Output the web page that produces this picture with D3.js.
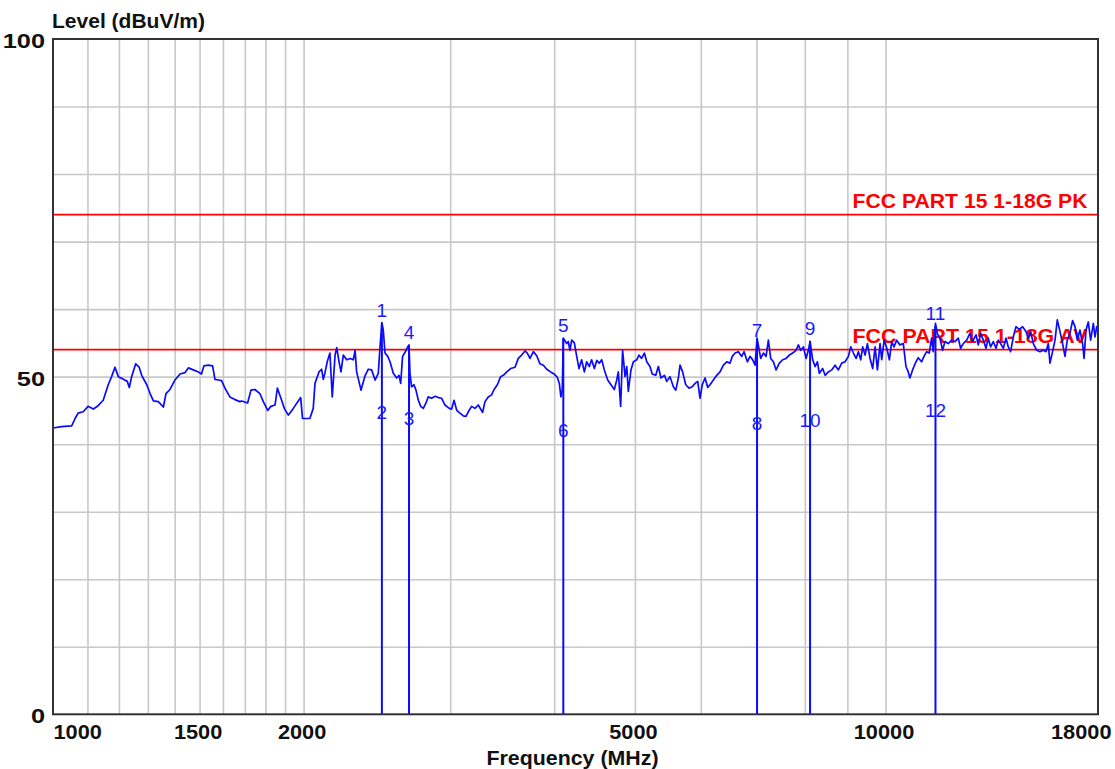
<!DOCTYPE html>
<html><head><meta charset="utf-8">
<script src="https://cdn.jsdelivr.net/npm/d3@7"></script>
<style>html,body{margin:0;padding:0;background:#fff;} svg{display:block;}</style>
</head><body><svg id="c" width="1115" height="769"></svg>
<script>
// ---- data ----
const traceFreq = [1000,1024,1053,1063,1072,1087,1102,1118,1133,1149,1165,1176,1187,1198,1215,1228,1235,1243,1257,1269,1278,1296,1308,1320,1338,1357,1367,1382,1401,1421,1441,1454,1474,1495,1508,1518,1536,1555,1565,1580,1594,1609,1631,1654,1677,1685,1713,1729,1748,1772,1789,1811,1827,1848,1860,1882,1896,1917,1944,1968,1984,1994,2035,2054,2064,2087,2102,2112,2122,2135,2151,2165,2182,2192,2206,2218,2232,2253,2274,2295,2306,2316,2344,2370,2392,2414,2437,2459,2470,2483.5,2493,2505,2524,2540,2563,2587,2604,2616,2630,2653,2667,2677,2684,2696,2714,2729,2747,2765,2785,2806,2823,2850,2877,2903,2930,2957,2992,3012,3032,3055,3082,3111,3134,3154,3183,3213,3242,3281,3303,3333,3364,3387,3418,3449,3475,3508,3546,3589,3622,3655,3690,3713,3741,3776,3811,3846,3882,3918,3961,3998,4035,4057,4075,4090,4102,4141,4159,4178,4198,4229,4257,4284,4315,4348,4376,4408,4436,4470,4499,4531,4561,4595,4638,4680,4724,4755,4776,4807,4833,4866,4889,4910,4946,4979,5026,5057,5094,5133,5167,5213,5246,5297,5335,5374,5425,5461,5510,5562,5599,5639,5665,5706,5755,5808,5860,5906,5949,5987,6024,6071,6116,6155,6212,6271,6327,6387,6447,6505,6545,6597,6657,6718,6763,6825,6875,6925,6972,7010,7081,7134,7187,7233,7280,7334,7389,7456,7525,7596,7665,7736,7809,7859,7910,7969,8028,8079,8117,8176,8231,8283,8328,8405,8462,8539,8618,8699,8778,8860,8943,9025,9084,9151,9220,9278,9338,9389,9452,9512,9582,9652,9717,9779,9851,9896,9963,10037,10108,10174,10237,10313,10407,10505,10583,10650,10699,10778,10880,10948,11050,11124,11206,11286,11360,11413,11483,11540,11625,11710,11789,11896,12006,12120,12230,12310,12401,12518,12631,12723,12845,12926,13010,13107,13205,13288,13375,13474,13575,13660,13750,13852,13956,14044,14136,14241,14347,14477,14611,14749,14842,14940,15051,15193,15330,15474,15589,15688,15760,15876,15982,16083,16202,16320,16430,16534,16656,16778,16892,16999,17124,17250,17318,17413,17523,17638,17769,17852,17936,18000];
const traceLevel = [42.4,42.6,42.7,43.8,44.6,44.8,45.6,45.2,45.7,46.5,48.8,50.0,51.4,50.0,49.6,49.3,48.4,50.0,51.9,51.4,50.2,48.8,47.5,46.4,46.3,45.5,47.5,48.1,49.5,50.4,50.6,51.3,51.0,50.7,50.4,51.6,51.7,51.6,49.6,49.5,49.4,48.3,47.0,46.6,46.3,46.4,46.1,48.0,48.1,47.5,46.3,45.0,45.6,45.8,48.3,46.5,45.3,44.3,45.3,46.3,46.9,43.8,43.8,45.3,49.0,50.7,51.1,49.6,50.6,52.2,53.5,47.0,53.2,54.3,52.2,50.7,53.2,52.5,52.7,52.5,53.9,50.7,48.0,50.1,51.1,51.0,49.5,50.5,54.2,58.0,56.9,53.5,53.0,52.2,50.5,49.8,50.2,49.0,53.0,53.8,54.4,54.7,50.5,48.5,48.8,48.0,46.5,45.6,45.3,46.1,47.0,46.8,47.1,46.9,46.8,45.8,45.3,45.2,46.5,45.0,44.6,44.2,44.1,44.8,45.6,45.3,45.8,44.7,46.3,47.0,47.3,48.1,48.8,50.0,50.2,50.7,51.2,51.4,52.7,53.2,53.8,53.5,52.7,53.7,53.1,51.9,51.7,51.1,50.7,50.4,49.9,49.0,47.0,48.0,55.7,54.9,55.2,53.9,55.4,55.0,53.0,51.2,52.5,50.7,52.2,51.5,52.5,51.2,52.4,52.0,52.5,51.0,49.5,48.8,48.1,49.5,50.7,45.6,53.9,50.0,51.5,47.8,51.0,52.2,52.5,53.2,52.7,53.5,52.2,51.5,50.4,50.2,51.5,49.8,50.2,49.3,50.0,48.5,48.0,49.8,51.7,50.7,48.8,48.3,48.5,49.0,49.3,46.8,48.8,49.8,48.4,48.8,49.5,50.2,50.7,51.7,52.2,52.0,53.0,53.5,53.7,53.0,53.7,52.2,53.0,52.5,51.7,55.7,52.7,53.5,53.0,55.4,52.7,52.2,51.0,52.0,52.5,52.7,53.2,53.5,53.9,54.7,53.9,54.4,52.7,53.9,55.2,52.5,51.5,52.2,50.5,51.2,50.2,50.7,51.0,51.7,51.0,52.0,52.2,53.0,54.4,53.5,52.7,53.7,52.5,54.4,53.2,54.9,52.7,51.2,54.4,51.0,54.9,52.5,55.4,54.2,52.5,55.2,54.4,55.4,54.7,54.9,51.5,50.7,49.8,51.0,52.2,52.8,52.2,53.0,53.7,53.5,55.7,53.7,57.9,56.4,55.7,53.9,55.2,54.9,55.4,55.2,55.7,54.2,54.9,55.4,56.4,55.2,56.2,54.7,56.4,55.4,54.2,55.7,54.4,55.2,54.2,55.4,54.9,54.2,55.7,54.4,53.7,55.9,57.4,57.0,57.4,56.7,55.7,56.7,54.9,53.9,53.7,53.9,53.7,54.9,52.0,53.7,55.4,58.4,56.7,54.9,53.0,55.4,56.4,58.3,57.4,55.4,56.9,54.9,52.7,56.9,58.1,55.4,57.9,55.9,57.4,56.5];

const markerNo       = [1, 2, 3, 4, 5, 6, 7, 8, 9, 10, 11, 12];
const markerFreq     = [2483.5, 2483.5, 2677, 2677, 4102, 4102, 7010, 7010, 8117, 8117, 11483, 11483];
const markerLevel    = [58.0, 44.7, 43.9, 54.7, 55.7, 42.1, 55.0, 43.2, 55.3, 43.6, 57.5, 45.0];
const markerDetector = ["PK","AV","AV","PK","PK","AV","PK","AV","PK","AV","PK","AV"];

const limitNames  = ["FCC PART 15 1-18G PK", "FCC PART 15 1-18G AV"];
const limitLevels = [74, 54];

const xGridValues = [1100,1200,1300,1400,1500,1600,1700,1800,1900,2000,3000,4000,5000,6000,7000,8000,9000,10000];
const xTickValues = [1000, 1500, 2000, 5000, 10000, 18000];
const xTickLabels = ["1000", "1500", "2000", "5000", "10000", "18000"];
const yGridValues = [10,20,30,40,50,60,70,80,90];
const yTickValues = [0, 50, 100];
const yTickLabels = ["0", "50", "100"];

const yTitle = "Level (dBuV/m)";
const xTitle = "Frequency (MHz)";

// ---- layout ----
const L = 53, R = 1098, T = 39, B = 714.3;
const font = "'Liberation Sans', Arial, Helvetica, sans-serif";
const svg = d3.select("#c");
svg.append("rect").attr("width", 1115).attr("height", 769).attr("fill", "#fff");

const x = d3.scaleLog().domain([1000, 18000]).range([L, R]);
const y = d3.scaleLinear().domain([0, 100]).range([B, T]);

// grid via axes
const gx = svg.append("g").attr("transform", `translate(0,${B})`)
  .call(d3.axisBottom(x).tickValues(xGridValues).tickSize(-(B - T)).tickFormat(""));
gx.select(".domain").remove();
gx.selectAll("line").attr("stroke", "#c8c8c8").attr("stroke-width", 1.6);

const gy = svg.append("g").attr("transform", `translate(${L},0)`)
  .call(d3.axisLeft(y).tickValues(yGridValues).tickSize(-(R - L)).tickFormat(""));
gy.select(".domain").remove();
gy.selectAll("line").attr("stroke", "#c8c8c8").attr("stroke-width", 1.6);

// limit lines
limitLevels.forEach((v, i) => {
  svg.append("line").attr("x1", L).attr("x2", R - 1).attr("y1", y(v)).attr("y2", y(v))
    .attr("stroke", "#ff0000").attr("stroke-width", 1.9);
  svg.append("text").attr("x", 852.5).attr("y", y(v) - 7)
    .attr("font-family", font).attr("font-weight", "bold").attr("font-size", 20)
    .attr("fill", "#ff0000").attr("textLength", 235).attr("lengthAdjust", "spacingAndGlyphs")
    .text(limitNames[i]);
});

// trace
const pts = traceFreq.map((f, i) => [f, traceLevel[i]]);
svg.append("path").datum(pts)
  .attr("d", d3.line().x(d => x(d[0])).y(d => y(d[1])))
  .attr("fill", "none").attr("stroke", "#0a0aff").attr("stroke-width", 1.7)
  .attr("stroke-linejoin", "round");

// marker lines (from 0 up to the higher reading of each frequency)
const freqSet = Array.from(new Set(markerFreq));
freqSet.forEach(f => {
  const top = d3.max(markerFreq.map((g, i) => g === f ? markerLevel[i] : -1));
  svg.append("line").attr("x1", x(f)).attr("x2", x(f)).attr("y1", y(0)).attr("y2", y(top))
    .attr("stroke", "#0a0aff").attr("stroke-width", 2);
});

// marker labels
markerNo.forEach((n, i) => {
  const isPk = markerDetector[i] === "PK";
  svg.append("text")
    .attr("x", x(markerFreq[i]))
    .attr("y", isPk ? y(markerLevel[i]) - 6 : y(markerLevel[i]) + 7)
    .attr("text-anchor", "middle")
    .attr("font-family", font).attr("font-size", 19).attr("fill", "#1a1aff")
    .text(n);
});

// frame
svg.append("rect").attr("x", L).attr("y", T).attr("width", R - L).attr("height", B - T)
  .attr("fill", "none").attr("stroke", "#333").attr("stroke-width", 2);

// x tick labels
const xa = svg.append("g").attr("transform", `translate(0,${B})`)
  .call(d3.axisBottom(x).tickValues(xTickValues).tickSize(0).tickPadding(0)
    .tickFormat((d, i) => xTickLabels[i]));
xa.select(".domain").remove();
xa.selectAll("text")
  .attr("font-family", font).attr("font-weight", "bold").attr("font-size", 20).attr("fill", "#111")
  .attr("dy", null).attr("y", 25)
  .attr("textLength", (d, i) => xTickLabels[i].length * 12.1).attr("lengthAdjust", "spacingAndGlyphs")
  .attr("text-anchor", (d, i) => i === 0 ? "start" : (i === xTickValues.length - 1 ? "end" : "middle"))
  .attr("dx", (d, i) => i === 0 ? 0 : (i === xTickValues.length - 1 ? 1111 - x(d) : -2));

// y tick labels
const ya = svg.append("g").attr("transform", `translate(${L},0)`)
  .call(d3.axisLeft(y).tickValues(yTickValues).tickSize(0).tickPadding(8)
    .tickFormat((d, i) => yTickLabels[i]));
ya.select(".domain").remove();
ya.selectAll("text")
  .attr("font-family", font).attr("font-weight", "bold").attr("font-size", 20).attr("fill", "#111")
  .attr("dy", "0.42em")
  .attr("textLength", (d, i) => yTickLabels[i].length * 14.1).attr("lengthAdjust", "spacingAndGlyphs");

// titles
svg.append("text").attr("x", 52).attr("y", 28)
  .attr("font-family", font).attr("font-weight", "bold").attr("font-size", 20).attr("fill", "#111")
  .attr("textLength", 153).attr("lengthAdjust", "spacingAndGlyphs").text(yTitle);
svg.append("text").attr("x", 572.5).attr("y", 765).attr("text-anchor", "middle")
  .attr("font-family", font).attr("font-weight", "bold").attr("font-size", 20).attr("fill", "#111")
  .attr("textLength", 172).attr("lengthAdjust", "spacingAndGlyphs").text(xTitle);
</script></body></html>
